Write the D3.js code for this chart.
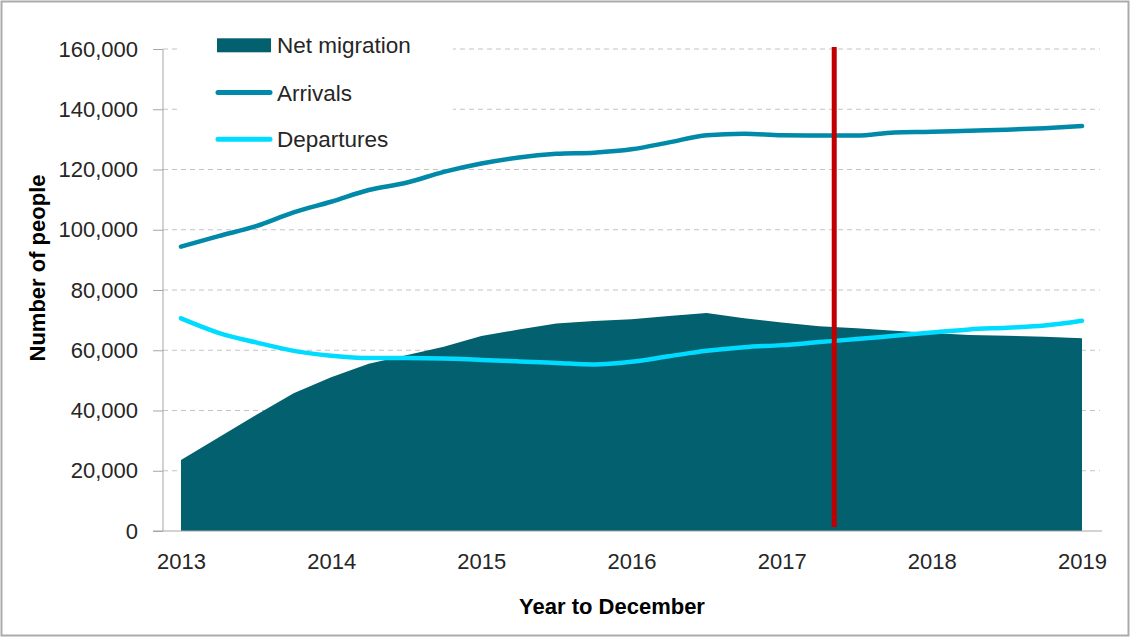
<html>
<head>
<script src="https://d3js.org/d3.v7.min.js"></script>
<style>
body { margin: 0; background: #fff; font-family: 'Liberation Sans', Arial, sans-serif; }
svg { display: block; }
</style>
</head>
<body>
<div id="chart"></div>
<script>
// quarterly points, year to December
var periods = [2013, 2013.25, 2013.5, 2013.75, 2014, 2014.25, 2014.5, 2014.75,
               2015, 2015.25, 2015.5, 2015.75, 2016, 2016.25, 2016.5, 2016.75,
               2017, 2017.25, 2017.5, 2017.75, 2018, 2018.25, 2018.5, 2018.75, 2019];
var netMigration = [23600, 31000, 38500, 45700, 51000, 55500, 58300, 61200,
                    64700, 66900, 68900, 69700, 70300, 71400, 72400, 70600,
                    69200, 68000, 67300, 66500, 65700, 65100, 64800, 64500, 64000];
var arrivals = [94400, 97900, 101200, 105800, 109300, 113200, 115600, 119200,
                122000, 124000, 125200, 125600, 126700, 129000, 131400, 131900,
                131400, 131300, 131300, 132300, 132500, 132900, 133200, 133700, 134400];
var departures = [70600, 65800, 62600, 59800, 58200, 57400, 57400, 57300,
                  56800, 56300, 55800, 55300, 56200, 58000, 59800, 61000,
                  61700, 62700, 63700, 64800, 65900, 66900, 67500, 68200, 69800];
var yearTicks = [2013, 2014, 2015, 2016, 2017, 2018, 2019];
var valueTicks = [0, 20000, 40000, 60000, 80000, 100000, 120000, 140000, 160000];
var markerYear = [2017.35];

var width = 1130, height = 637;
var svg = d3.select("#chart").append("svg")
  .attr("width", width).attr("height", height);

var x = d3.scaleLinear().domain([2013, 2019]).range([181, 1082]);
var y = d3.scaleLinear().domain([0, 160000]).range([531, 49]);
var axisX = 163;

var rows = periods.map(function(p, i) {
  return { t: p, net: netMigration[i], arr: arrivals[i], dep: departures[i] };
});

// outer frame
svg.append("rect")
  .attr("x", 1.5).attr("y", 1.5).attr("width", width - 3).attr("height", height - 3)
  .attr("fill", "none").attr("stroke", "#ababab").attr("stroke-width", 2);

// gridlines
svg.append("g").selectAll("line")
  .data(valueTicks.filter(function(d) { return d > 0; }))
  .enter().append("line")
  .attr("x1", axisX).attr("x2", 1100)
  .attr("y1", function(d) { return y(d); }).attr("y2", function(d) { return y(d); })
  .attr("stroke", "#c4c4c4").attr("stroke-width", 1)
  .attr("stroke-dasharray", "5,4");

// y axis
var yAxis = d3.axisLeft(y).tickValues(valueTicks).tickSize(10)
  .tickFormat(function(d) { return d3.format(",")(d); });
var gy = svg.append("g").attr("transform", "translate(" + axisX + ",0)").call(yAxis);
gy.select(".domain").attr("stroke", "#a6a6a6").attr("d", "M0," + y(160000) + "V" + y(0));
gy.selectAll(".tick line").attr("stroke", "#a6a6a6");
gy.selectAll(".tick text")
  .attr("x", -25)
  .attr("fill", "#262626")
  .style("font-family", "'Liberation Sans', Arial, sans-serif")
  .style("font-size", "22px");

// net migration area
var area = d3.area()
  .x(function(d) { return x(d.t); })
  .y0(y(0))
  .y1(function(d) { return y(d.net); });
svg.append("path").datum(rows)
  .attr("d", area)
  .attr("fill", "#03606f");

// x axis
var xAxis = d3.axisBottom(x).tickValues(yearTicks).tickSize(0).tickFormat(d3.format("d"));
var gx = svg.append("g").attr("transform", "translate(0," + y(0) + ")").call(xAxis);
gx.select(".domain").attr("stroke", "#a6a6a6").attr("d", "M153,0H1102");
gx.selectAll(".tick text")
  .attr("y", 22)
  .attr("fill", "#262626")
  .style("font-family", "'Liberation Sans', Arial, sans-serif")
  .style("font-size", "22px");

// lines
var lineArr = d3.line()
  .x(function(d) { return x(d.t); })
  .y(function(d) { return y(d.arr); })
  .curve(d3.curveMonotoneX);
var lineDep = d3.line()
  .x(function(d) { return x(d.t); })
  .y(function(d) { return y(d.dep); })
  .curve(d3.curveMonotoneX);

svg.append("path").datum(rows)
  .attr("d", lineDep)
  .attr("fill", "none").attr("stroke", "#00dcff")
  .attr("stroke-width", 4.5).attr("stroke-linecap", "round").attr("stroke-linejoin", "round");
svg.append("path").datum(rows)
  .attr("d", lineArr)
  .attr("fill", "none").attr("stroke", "#0089a8")
  .attr("stroke-width", 4.5).attr("stroke-linecap", "round").attr("stroke-linejoin", "round");

// red marker line
svg.selectAll(".marker").data(markerYear)
  .enter().append("line")
  .attr("class", "marker")
  .attr("x1", function(d) { return x(d); }).attr("x2", function(d) { return x(d); })
  .attr("y1", y(160000) - 2).attr("y2", y(0) - 4)
  .attr("stroke", "#c00000").attr("stroke-width", 5);

// legend
svg.append("rect")
  .attr("x", 180).attr("y", 28).attr("width", 273).attr("height", 132)
  .attr("fill", "#fff");

var legend = [
  { name: "Net migration", type: "area", color: "#03606f", cy: 45.3 },
  { name: "Arrivals", type: "line", color: "#0089a8", cy: 92.5 },
  { name: "Departures", type: "line", color: "#00dcff", cy: 139.3 }
];
var lg = svg.append("g").selectAll("g").data(legend).enter().append("g");
lg.filter(function(d) { return d.type === "area"; }).append("rect")
  .attr("x", 217).attr("y", function(d) { return d.cy - 7; })
  .attr("width", 54).attr("height", 14)
  .attr("fill", function(d) { return d.color; });
lg.filter(function(d) { return d.type === "line"; }).append("line")
  .attr("x1", 218).attr("x2", 270)
  .attr("y1", function(d) { return d.cy; }).attr("y2", function(d) { return d.cy; })
  .attr("stroke", function(d) { return d.color; })
  .attr("stroke-width", 5).attr("stroke-linecap", "round");
lg.append("text")
  .attr("x", 277).attr("y", function(d) { return d.cy + 8; })
  .attr("fill", "#262626")
  .style("font-size", "22.5px")
  .text(function(d) { return d.name; });

// axis titles
svg.append("text")
  .attr("transform", "translate(45,268) rotate(-90)")
  .attr("text-anchor", "middle")
  .attr("fill", "#000")
  .style("font-weight", "bold").style("font-size", "22px")
  .text("Number of people");
svg.append("text")
  .attr("x", 612).attr("y", 614)
  .attr("text-anchor", "middle")
  .attr("fill", "#000")
  .style("font-weight", "bold").style("font-size", "22px")
  .text("Year to December");
</script>
</body>
</html>
